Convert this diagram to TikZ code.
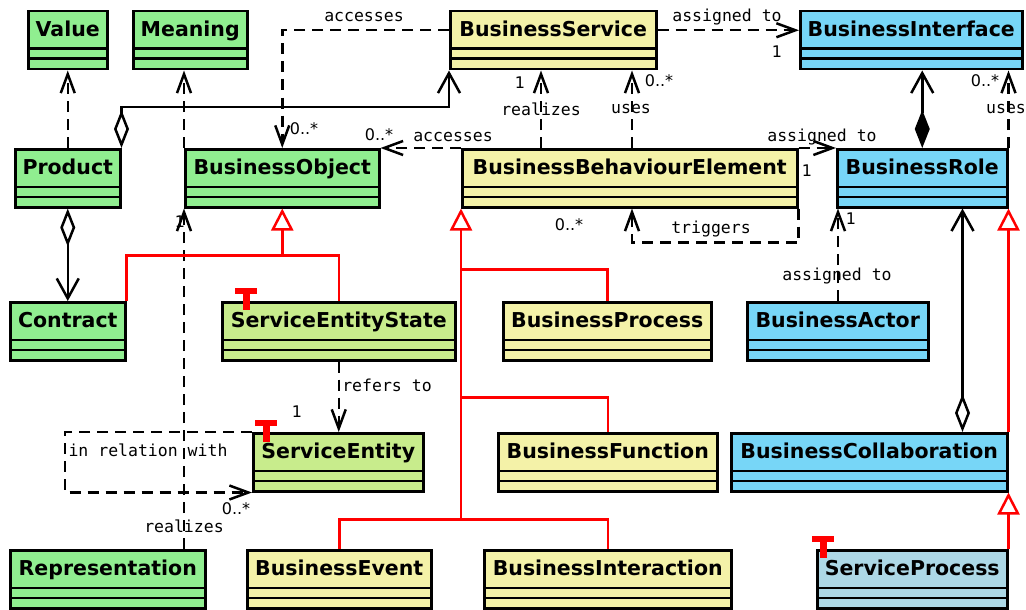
\documentclass[tikz,border=0pt]{standalone}
\usepackage{fontspec}
\setmainfont{DejaVu Sans}
\newfontfamily\monof{DejaVu Sans Mono}
\usetikzlibrary{arrows.meta,calc}
\definecolor{cgreen}{HTML}{90EE90}
\definecolor{cgreenb}{RGB}{200,236,140}
\definecolor{cyellow}{RGB}{244,242,168}
\definecolor{cblue}{RGB}{119,214,247}
\definecolor{cblueb}{HTML}{ADD8E6}
\newcommand\stereoT[2]{\fill[red] (#1-11,#2) rectangle (#1+11,#2+6); \fill[red] (#1-3.5,#2) rectangle (#1+3.5,#2+22);}
\begin{document}
\begin{tikzpicture}[x=1pt,y=-1pt,
  cls/.style={draw=black, line width=2.5pt, anchor=north west, inner xsep=0pt, inner ysep=0pt,
    minimum height=58pt, text height=25pt, text depth=33pt,
    font=\fontsize{20.5}{24}\selectfont\bfseries,
    path picture={\draw[line width=2.5pt]
      ([yshift=-37.5pt]path picture bounding box.north west) -- ([yshift=-37.5pt]path picture bounding box.north east)
      ([yshift=-47.5pt]path picture bounding box.north west) -- ([yshift=-47.5pt]path picture bounding box.north east);}},
  lbl/.style={font=\monof\fontsize{16.5}{18}\selectfont, inner sep=0pt},
  mult/.style={font=\fontsize{16}{18}\selectfont, inner sep=0pt},
  conn/.style={line width=2.5pt, draw=black},
  dep/.style={conn, dash pattern=on 11pt off 7pt, -{Straight Barb[length=19pt,width=14pt]}},
  assoc/.style={conn, -{Straight Barb[length=20pt,width=22pt]}},
  aggr/.style={conn, {Diamond[open,length=38pt,width=15pt]}-{Straight Barb[length=20pt,width=22pt]}},
  comp/.style={conn, {Diamond[length=38pt,width=15pt]}-{Straight Barb[length=20pt,width=22pt]}},
  genline/.style={line width=2.5pt, draw=red},
  gen/.style={genline, -{Triangle[open,length=22pt,width=22pt]}},
]
\useasboundingbox (0,0) rectangle (1026,610);

% classes
\node[cls, fill=cgreen, minimum width=79pt] (value) at (27,10) {Value};
\node[cls, fill=cgreen, minimum width=114pt] (meaning) at (132,10) {Meaning};
\node[cls, fill=cyellow, minimum width=206pt] (bserv) at (449,10) {BusinessService};
\node[cls, fill=cblue, minimum width=222pt] (bintf) at (799,10) {BusinessInterface};

\node[cls, fill=cgreen, minimum width=105pt] (product) at (14,148) {Product};
\node[cls, fill=cgreen, minimum width=194pt] (bobj) at (184,148) {BusinessObject};
\node[cls, fill=cyellow, minimum width=335pt] (bbe) at (461,148) {BusinessBehaviourElement};
\node[cls, fill=cblue, minimum width=170pt] (brole) at (836,148) {BusinessRole};

\node[cls, fill=cgreen, minimum width=115pt] (contract) at (9,301) {Contract};
\node[cls, fill=cgreenb, minimum width=233pt] (ses) at (221,301) {ServiceEntityState};
\node[cls, fill=cyellow, minimum width=208pt] (bproc) at (502,301) {BusinessProcess};
\node[cls, fill=cblue, minimum width=181pt] (bactor) at (746,301) {BusinessActor};

\node[cls, fill=cgreenb, minimum width=170pt] (sent) at (252,432) {ServiceEntity};
\node[cls, fill=cyellow, minimum width=219pt] (bfunc) at (497,432) {BusinessFunction};
\node[cls, fill=cblue, minimum width=276pt] (bcollab) at (730,432) {BusinessCollaboration};

\node[cls, fill=cgreen, minimum width=195pt] (repr) at (9,549) {Representation};
\node[cls, fill=cyellow, minimum width=184pt] (bevent) at (246,549) {BusinessEvent};
\node[cls, fill=cyellow, minimum width=247pt] (binter) at (483,549) {BusinessInteraction};
\node[cls, fill=cblueb, minimum width=190pt] (sproc) at (816,549) {ServiceProcess};

% helper coordinates
\coordinate (r1) at ([xshift=80pt]bbe.north west);
\coordinate (u1) at ([xshift=171pt]bbe.north west);
\coordinate (a1) at ([xshift=2pt]brole.south west);
\coordinate (c1) at ([xshift=-46pt]bcollab.north east);
\coordinate (j1) at ($(bobj.south)+(0,47)$);
\coordinate (j2) at ($(bbe.south west)+(0,311)$);

% connectors
\draw[dep] (product.north) -- (value.south);
\draw[aggr] (product.south) -- (contract.north);
\draw[aggr] (product.north east) -- ++(0,-41) -| (bserv.south west);
\draw[dep] (bobj.north west) -- (bobj.north west |- meaning.south);
\draw[dep] (bobj.south west |- repr.north) -- (bobj.south west);
\draw[dep] ([yshift=10pt]bserv.west) -| (bobj.north);
\draw[dep] ([yshift=10pt]bserv.east) -- ([yshift=10pt]bintf.west);
\draw[dep] (r1) -- (r1 |- bserv.south);
\draw[dep] (u1) -- (u1 |- bserv.south);
\draw[dep] (bbe.north west) -- (bobj.north east);
\draw[dep] (bbe.north east) -- (brole.north west);
\draw[dep] (bbe.south east) -- ++(0,34) -| (u1 |- bbe.south);
\draw[comp] (brole.north) -- (brole.north |- bintf.south);
\draw[dep] (brole.north east) -- (brole.north east |- bintf.south);
\draw[dep] (a1 |- bactor.north) -- (a1);
\draw[aggr] (c1) -- (c1 |- brole.south);
\draw[gen] (bcollab.north east) -- (brole.south east);
\draw[gen] (sproc.north east) -- (bcollab.south east);
\draw[genline] (contract.north east) |- (j1) -| (ses.north);
\draw[gen] (j1) -- (bobj.south);
\draw[genline] ($(bbe.south west)+(0,61)$) -| (bproc.north);
\draw[genline] ($(bbe.south west)+(0,189)$) -| (bfunc.north);
\draw[genline] (bevent.north) |- (j2) -| (binter.north);
\draw[gen] (j2) -- (bbe.south west);
\draw[dep] (ses.south) -- (ses.south |- sent.north);
\draw[dep] (sent.north west) -- ++(-187,0) |- (sent.south west);

% stereotype markers
\stereoT{246}{288}
\stereoT{266}{420}
\stereoT{823}{536}

% labels
\node[lbl] (t1) at (364,17) {accesses};
\node[mult] (m1) at (304,129) {0..*};
\node[mult] (m2) at (379,135) {0..*};
\node[lbl] (t2) at (453,137) {accesses};
\node[lbl] (t3) at (727,17) {assigned to};
\node[mult] (m3) at (777,52) {1};
\node[mult] (m4) at (520,83) {1};
\node[lbl] (t4) at (541,109) {realizes};
\node[lbl] (t5) at (631,109) {uses};
\node[mult] (m5) at (659,81) {0..*};
\node[lbl] (t6) at (822,137) {assigned to};
\node[mult] (m6) at (807,171) {1};
\node[mult] (m7) at (985,81) {0..*};
\node[lbl] (t7) at (1006,109) {uses};
\node[mult] (m8) at (569,225) {0..*};
\node[lbl] (t8) at (711,229) {triggers};
\node[mult] (m9) at (851,219) {1};
\node[lbl] (t9) at (837,276) {assigned to};
\node[lbl] (t10) at (387,385) {refers to};
\node[mult] (m10) at (297,412) {1};
\node[lbl] (t11) at (148,450) {in relation with};
\node[mult] (m11) at (236,509) {0..*};
\node[lbl] (t12) at (184,526) {realizes};
\node[mult] (m12) at (180,222) {1};
\end{tikzpicture}
\end{document}
